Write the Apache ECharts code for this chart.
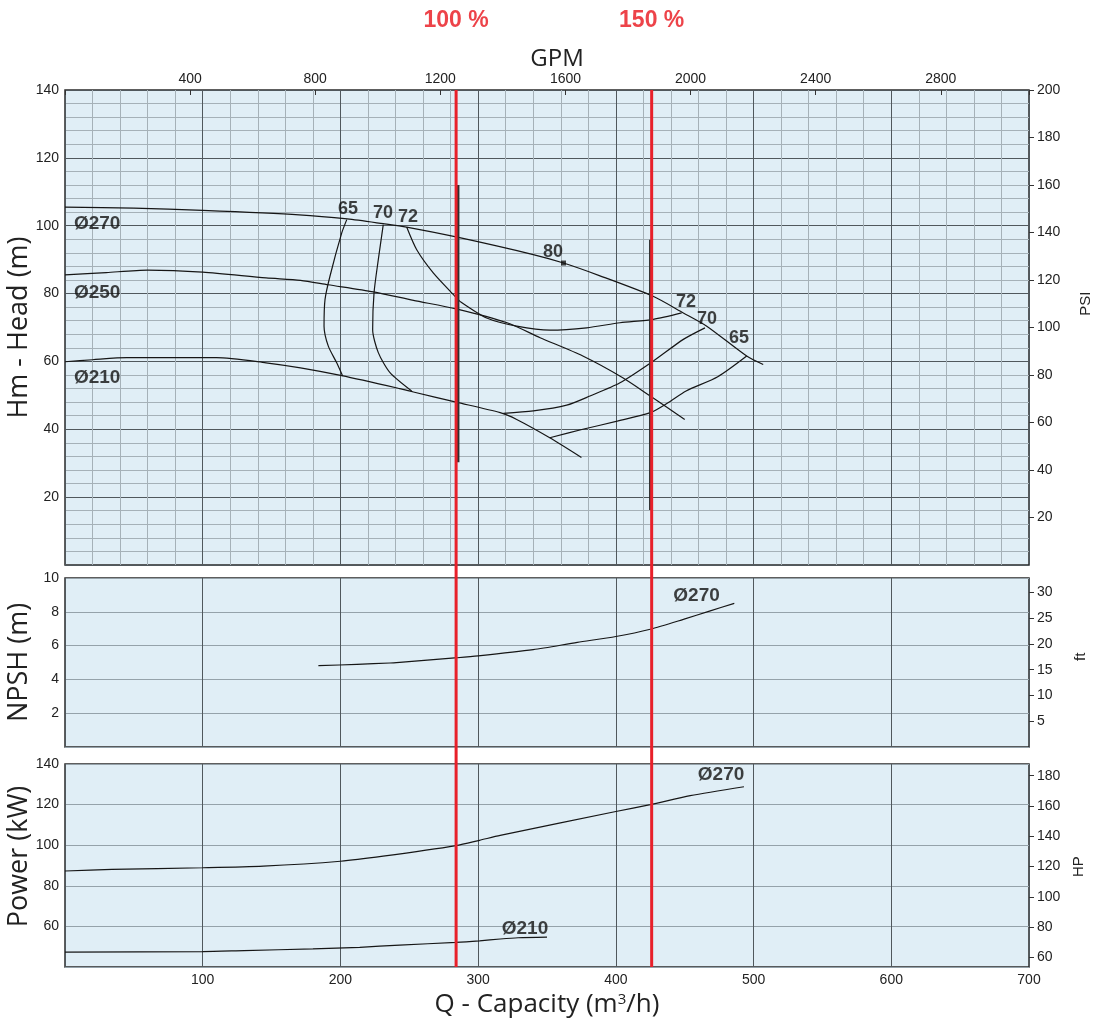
<!DOCTYPE html>
<html>
<head>
<meta charset="utf-8">
<script src="https://cdn.jsdelivr.net/npm/echarts@6/dist/echarts.min.js"></script>
<style>
html,body{margin:0;padding:0;background:#fff;}
#chart{width:1097px;height:1021px;}
</style>
</head>
<body>
<div id="chart"></div>
<script>
// ---------------- DATA ----------------
// Head curves [Q m3/h, H m]
const headD270 = [[0,105.5],[50,105.2],[100,104.5],[170,103.2],[205,102.0],[231,100.6],[248,99.6],[284,96.7],[340,91.5],[362,89.0],[388,85.3],[427,79.2],[449,74.3],[466,70.4],[495,61.6],[507,59.1]];
const headD250 = [[0,85.5],[30,86.2],[60,86.9],[100,86.3],[146,84.6],[171,83.9],[191,82.6],[224,80.5],[253,78.0],[284,75.5],[321,71.4],[345,67.0],[376,61.6],[405,55.2],[425,49.8],[450,42.9]];
const headD210 = [[0,59.9],[20,60.5],[45,61.1],[110,61.1],[146,59.6],[171,58.1],[201,55.8],[243,52.0],[253,51.0],[284,48.0],[316,44.9],[328,42.9],[352,37.5],[375,31.7]];
// Iso-efficiency curves [Q, H]
const eff65L = [[204.6,101.8],[200.9,97.8],[192.4,85.1],[188.8,78.2],[188.1,70.4],[191.2,64.5],[197.3,59.6],[201.6,55.7]];
const eff70L = [[231.1,100.3],[227.5,90.0],[224.4,80.2],[223.4,69.4],[227.5,62.6],[236.0,56.7],[251.7,51.3]];
const eff72  = [[248.1,99.6],[255.4,92.9],[267.4,86.1],[283.2,79.2],[286.8,77.7],[306.2,72.8],[328.0,70.4],[352.2,69.2],[378.8,69.9],[403.0,71.4],[427.2,72.4],[447.8,74.3]];
const eff70R = [[464.7,69.9],[449.0,66.5],[427.2,60.1],[403.0,53.7],[381.2,49.8],[364.3,47.1],[340.1,45.4],[318.3,44.7]];
const eff65R = [[495,61.6],[474,55.5],[451,51.3],[437,47.6],[425,44.9],[401,42.4],[376,40.0],[352,37.5]];
const bestPoint = [[362,89.0]];
// operating range markers (dark vertical bars) [Q, H]
const opBar100 = [[285.5,112],[285.5,30.3]];
const opBar150 = [[425,95.9],[425,16.2]];
// NPSH [Q, m]
const npshD270 = [[184,4.81],[212,4.89],[236,4.97],[243,5.01],[283,5.27],[300,5.39],[340,5.76],[372,6.19],[400,6.54],[425,6.97],[449,7.55],[468,8.04],[486,8.5]];
// Power [Q, kW]
const powD270 = [[0,87.3],[34,88.1],[100,88.9],[144,89.7],[200,92.1],[231,94.6],[284,99.8],[301,102.4],[316,104.8],[400,116.6],[425,120.0],[454,124.4],[493,128.8]];
const powD210 = [[0,47.3],[100,47.6],[130,48.1],[180,48.9],[214,49.7],[243,50.8],[284,52.1],[301,52.9],[316,53.8],[329,54.4],[350,54.7]];
// duty points (m3/h)
const dutyQ = [284, 426];
const dutyText = ['100 %', '150 %'];
// labels [text, Q, value]
const headLabels = [['Ø270',6.5,100.6],['Ø250',6.5,80.3],['Ø210',6.5,55.3]];
const effLabels = [['65',205.5,105.0],['70',230.9,103.8],['72',249.1,102.6],['80',354.4,92.1],['72',450.9,77.4],['70',466.2,72.6],['65',489.4,66.8]];
const npshLabels = [['Ø270',458.6,8.95]];
const powLabels = [['Ø270',476.4,134.6],['Ø210',334,58.7]];
// axis ranges / conversions
const Q_MAX = 700;
const GPM_PER_M3H = 4.4029;
const FT_PER_M = 3.2808;
const HP_PER_KW = 1.341;

// ---------------- LAYOUT ----------------
const L = 65, W = 964;
const gA = {top: 90, height: 475};
const gB = {top: 578, height: 169};
const gC = {top: 764, height: 203};
const BG = '#e0eef6';
const MAJOR = '#50585d';
const MINOR = '#a5b1b8';
const HGRID = '#95a2aa';
const TXT = '#222';
const FONT = 'Liberation Sans, Arial, sans-serif';
const TFONT = 'Open Sans, Noto Sans, sans-serif';

// right-axis helper grids (aligned to left scales)
const gP = {top: gA.top, height: gA.height * (200 - 20) / 200};            // PSI 20..200 (0..200 over panel)
const ftTopM = 30 / FT_PER_M, ftBotM = 5 / FT_PER_M;
const gF = {top: gB.top + gB.height * (10 - ftTopM) / 10, height: gB.height * (ftTopM - ftBotM) / 10};
const kwTop = 180 / HP_PER_KW, kwBot = 60 / HP_PER_KW;
const gG = {top: gC.top + gC.height * (140 - kwTop) / 100, height: gC.height * (kwTop - kwBot) / 100};

const chart = echarts.init(document.getElementById('chart'), null, {renderer: 'canvas'});

const lbl = {color: TXT, fontFamily: FONT, fontSize: 14};
const noLine = {show: false, onZero: false};
const hideAxis = (grid, type) => ({gridIndex: grid, type: 'value', show: false, min: 0, max: type === 'x' ? Q_MAX : 1, axisLine: noLine});
const mkGrid = (g, shown) => Object.assign({left: L, width: W, top: g.top, height: g.height, outerBoundsMode: 'none', containLabel: false},
  shown ? {show: true, backgroundColor: BG, borderColor: '#2a2a2a', borderWidth: 1.5} : {show: false});
const rightTick = {show: true, inside: false, length: 5, lineStyle: {color: '#333'}};
const titleStyle = {color: TXT, fontFamily: TFONT, fontSize: 27};

function curve(data, xi, yi, extra) {
  return Object.assign({type: 'line', data: data, xAxisIndex: xi, yAxisIndex: yi, showSymbol: false, symbol: 'none',
    silent: true, smooth: 0.25, lineStyle: {color: '#161616', width: 1.2}, z: 3}, extra || {});
}
function textSeries(items, xi, yi, fs, pos) {
  return {type: 'scatter', xAxisIndex: xi, yAxisIndex: yi, symbolSize: 0, silent: true, z: 5,
    data: items.map(d => ({name: d[0], value: [d[1], d[2]]})),
    label: {show: true, position: pos || 'inside', distance: 0, formatter: p => p.name, color: '#111', fontFamily: FONT, fontWeight: 'bold', fontSize: fs}};
}

const option = {
  animation: false,
  backgroundColor: '#fff',
  grid: [
    mkGrid(gA, true), mkGrid(gB, true), mkGrid(gC, true),
    mkGrid({top: gA.top, height: gC.top + gC.height - gA.top}, false),
    mkGrid(gA, false), mkGrid(gF, false), mkGrid(gG, false), mkGrid(gP, false)
  ],
  xAxis: [
    {gridIndex: 0, type: 'value', min: 0, max: Q_MAX, interval: 100, axisLine: noLine, axisTick: {show: false}, axisLabel: {show: false},
      splitLine: {show: true, lineStyle: {color: MAJOR, width: 1}}, minorTick: {show: false, splitNumber: 5}, minorSplitLine: {show: true, lineStyle: {color: MINOR, width: 1}}},
    {gridIndex: 1, type: 'value', min: 0, max: Q_MAX, interval: 100, axisLine: noLine, axisTick: {show: false}, axisLabel: {show: false},
      splitLine: {show: true, lineStyle: {color: MAJOR, width: 1}}},
    {gridIndex: 2, type: 'value', min: 0, max: Q_MAX, interval: 100, axisLine: noLine, axisTick: {show: false},
      axisLabel: Object.assign({}, lbl, {margin: 6, formatter: v => v === 0 ? '' : String(v)}),
      splitLine: {show: true, lineStyle: {color: MAJOR, width: 1}},
      name: 'Q - Capacity (m{sup|3}/h)', nameLocation: 'middle', nameGap: 25, nameMoveOverlap: false,
      nameTextStyle: {color: TXT, fontFamily: TFONT, fontSize: 26, verticalAlign: 'top',
        rich: {sup: {fontFamily: TFONT, fontSize: 15, color: TXT, verticalAlign: 'top', padding: [0, 0, 8, 0]}}}},
    hideAxis(3, 'x'),
    {gridIndex: 4, type: 'value', position: 'top', min: 0, max: Q_MAX * GPM_PER_M3H, interval: 400, axisLine: noLine,
      axisTick: {show: true, inside: true, length: 5, lineStyle: {color: '#333'}},
      axisLabel: Object.assign({}, lbl, {margin: 4, formatter: v => (v > 0 && v % 400 === 0) ? String(v) : ''}),
      splitLine: {show: false},
      name: 'GPM', nameLocation: 'middle', nameGap: 16,
      nameTextStyle: {color: TXT, fontFamily: TFONT, fontSize: 24, padding: [0, 0, 0, 20]}},
    hideAxis(5, 'x'),
    hideAxis(6, 'x'),
    hideAxis(7, 'x')
  ],
  yAxis: [
    {gridIndex: 0, type: 'value', position: 'left', min: 0, max: 140, interval: 20, axisLine: noLine, axisTick: {show: false},
      axisLabel: Object.assign({}, lbl, {margin: 6, formatter: v => v === 0 ? '' : String(v)}),
      splitLine: {show: true, lineStyle: {color: MAJOR, width: 1}}, minorTick: {show: false, splitNumber: 5}, minorSplitLine: {show: true, lineStyle: {color: MINOR, width: 1}},
      name: 'Hm - Head (m)', nameLocation: 'middle', nameGap: 32, nameRotate: 90, nameMoveOverlap: false, nameTextStyle: titleStyle},
    {gridIndex: 1, type: 'value', position: 'left', min: 0, max: 10, interval: 2, axisLine: noLine, axisTick: {show: false},
      axisLabel: Object.assign({}, lbl, {margin: 6, formatter: v => v === 0 ? '' : String(v)}),
      splitLine: {show: true, lineStyle: {color: HGRID, width: 1}},
      name: 'NPSH (m)', nameLocation: 'middle', nameGap: 32, nameRotate: 90, nameMoveOverlap: false, nameTextStyle: titleStyle},
    {gridIndex: 2, type: 'value', position: 'left', min: 40, max: 140, interval: 20, axisLine: noLine, axisTick: {show: false},
      axisLabel: Object.assign({}, lbl, {margin: 6, formatter: v => v === 40 ? '' : String(v)}),
      splitLine: {show: true, lineStyle: {color: HGRID, width: 1}},
      name: 'Power (kW)', nameLocation: 'middle', nameGap: 32, nameRotate: 90, nameMoveOverlap: false,
      nameTextStyle: Object.assign({}, titleStyle, {padding: [0, 0, 0, 18]})},
    hideAxis(3, 'y'),
    hideAxis(4, 'y'),
    {gridIndex: 5, type: 'value', position: 'right', min: 5, max: 30, interval: 5, axisLine: noLine,
      axisTick: rightTick, axisLabel: Object.assign({}, lbl, {margin: 8}), splitLine: {show: false},
      name: 'ft', nameLocation: 'middle', nameGap: 44, nameRotate: 90, nameTextStyle: {color: TXT, fontFamily: FONT, fontSize: 15}},
    {gridIndex: 6, type: 'value', position: 'right', min: 60, max: 180, interval: 20, axisLine: noLine,
      axisTick: rightTick, axisLabel: Object.assign({}, lbl, {margin: 8}), splitLine: {show: false},
      name: 'HP', nameLocation: 'middle', nameGap: 37, nameRotate: 90, nameTextStyle: {color: TXT, fontFamily: FONT, fontSize: 15}},
    {gridIndex: 7, type: 'value', position: 'right', min: 20, max: 200, interval: 20, axisLine: noLine,
      axisTick: rightTick, axisLabel: Object.assign({}, lbl, {margin: 8}), splitLine: {show: false},
      name: 'PSI', nameLocation: 'middle', nameGap: 49, nameRotate: 90, nameTextStyle: {color: TXT, fontFamily: FONT, fontSize: 15}}
  ],
  series: [
    curve(headD270, 0, 0), curve(headD250, 0, 0), curve(headD210, 0, 0),
    curve(eff65L, 0, 0), curve(eff70L, 0, 0), curve(eff72, 0, 0), curve(eff70R, 0, 0), curve(eff65R, 0, 0),
    curve(opBar100, 0, 0, {smooth: false, lineStyle: {color: '#2e2e2e', width: 2.5}}),
    curve(opBar150, 0, 0, {smooth: false, lineStyle: {color: '#2e2e2e', width: 2.5}}),
    {type: 'scatter', xAxisIndex: 0, yAxisIndex: 0, data: bestPoint, symbol: 'rect', symbolSize: 5, itemStyle: {color: '#111'}, silent: true, z: 4},
    textSeries(headLabels, 0, 0, 19, 'right'),
    curve(npshD270, 1, 1),
    textSeries(npshLabels, 1, 1, 19),
    curve(powD270, 2, 2), curve(powD210, 2, 2),
    textSeries(powLabels, 2, 2, 19),
    textSeries(effLabels, 0, 0, 18),
    // duty lines across all panels
    ...dutyQ.map(q => ({type: 'line', xAxisIndex: 3, yAxisIndex: 3, data: [[q, 0], [q, 1]], symbol: 'none', silent: true, z: 10,
      lineStyle: {color: '#e8202a', width: 3}})),
    {type: 'scatter', xAxisIndex: 3, yAxisIndex: 3, symbolSize: 0, silent: true, z: 10,
      data: dutyQ.map((q, i) => ({name: dutyText[i], value: [q, 1]})),
      label: {show: true, position: 'top', distance: 58, formatter: p => p.name, color: '#e8141c', fontFamily: FONT, fontWeight: 'bold', fontSize: 23}}
  ]
};
chart.setOption(option);
</script>
</body>
</html>
